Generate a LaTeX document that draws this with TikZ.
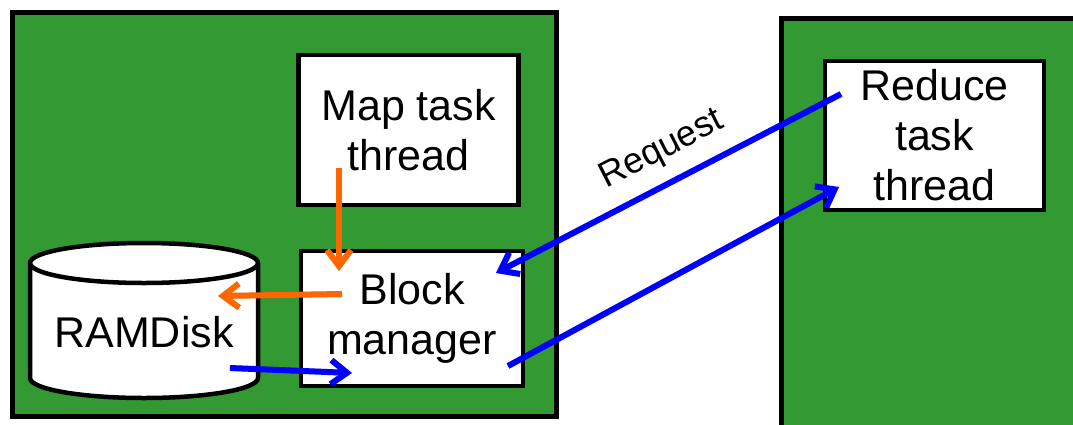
\documentclass[tikz,border=0pt]{standalone}
\usepackage{fontspec}
\setmainfont{Liberation Sans}
\usetikzlibrary{arrows.meta}
\definecolor{nodegreen}{RGB}{51,153,51}
\definecolor{flowred}{RGB}{255,102,0}
\definecolor{flowblue}{RGB}{0,0,255}
\tikzset{
  machine/.style={draw=black, line width=5pt, fill=nodegreen},
  taskbox/.style={draw=black, line width=4.5pt, fill=white, align=center,
    inner sep=0pt, font=\fontsize{43}{50}\selectfont},
  lbl/.style={font=\fontsize{43}{50}\selectfont, align=center, inner sep=0pt},
  flow/.style={line width=6pt, -{Straight Barb[length=16pt,width=24pt]}},
  flowshadow/.style={flow, draw=black, draw opacity=0.15, shift={(2.5,2.5)}},
}
\begin{document}
\begin{tikzpicture}[x=1pt,y=-1pt]
\useasboundingbox (0,0) rectangle (1073,424);
\clip (0,0) rectangle (1073,424);
\fill[white] (0,0) rectangle (1073,424);

% the two machines
\draw[machine] (12,12) rectangle (556,416);
\draw[machine] (781,18) rectangle (1090,440);

% task and manager boxes
\node[taskbox, minimum width=220pt, minimum height=150pt] (map) at (408.5,130) {Map task\\thread};
\node[taskbox, minimum width=222pt, minimum height=135pt] (blk) at (412,318.5) {Block\\manager};
\node[taskbox, minimum width=219pt, minimum height=149pt] (red) at (934.5,135.5) {Reduce\\task\\thread};

% RAMDisk cylinder
\draw[line width=4.5pt, fill=white]
  (30,263) -- (30,378) arc[start angle=180, end angle=360, x radius=114, y radius=-20]
  -- (258,263) arc[start angle=0, end angle=180, x radius=114, y radius=-20] -- cycle;
\draw[line width=4.5pt] (30,263) arc[start angle=180, end angle=360, x radius=114, y radius=-20];
\node[lbl] (ram) at (144,332) {RAMDisk};

% connector end points
\coordinate (mapOut) at (339,168);
\coordinate (blkIn) at (339,271);
\coordinate (blkOut) at (342,294);
\coordinate (ramIn) at (218,296);
\coordinate (ramOut) at (230,368);
\coordinate (blkIn2) at (352,373);
\coordinate (redOut) at (841,94);
\coordinate (blkReq) at (496,273);
\coordinate (blkOut2) at (508,366);
\coordinate (redIn) at (839,187);

% soft shadows under the connectors
\draw[flowshadow] (mapOut) -- (blkIn);
\draw[flowshadow] (blkOut) -- (ramIn);
\draw[flowshadow] (ramOut) -- (blkIn2);
\draw[flowshadow] (redOut) -- (blkReq);
\draw[flowshadow] (blkOut2) -- (redIn);

% data flow inside the map side
\draw[flow, flowred] (mapOut) -- (blkIn);
\draw[flow, flowred] (blkOut) -- (ramIn);
\draw[flow, flowblue] (ramOut) -- (blkIn2);

% request and reply between the machines
\draw[flow, flowblue] (redOut) -- (blkReq);
\draw[flow, flowblue] (blkOut2) -- (redIn);
\node[font=\fontsize{36}{40}\selectfont, rotate=27, inner sep=0pt] (req) at (662,150) {Request};
\end{tikzpicture}
\end{document}
